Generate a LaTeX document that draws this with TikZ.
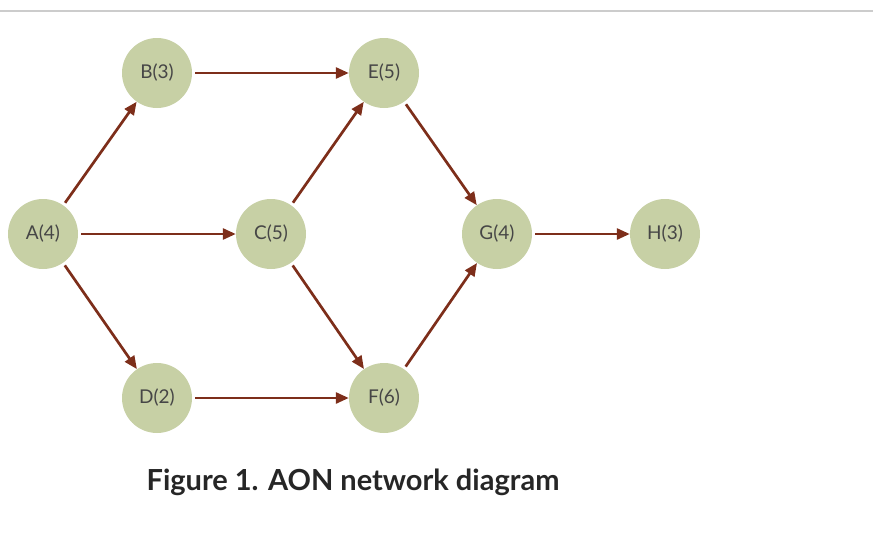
\documentclass[tikz,border=0pt]{standalone}
\usepackage{fontspec}
\setmainfont{Lato}
\usetikzlibrary{arrows.meta}
\definecolor{nodefill}{RGB}{199,208,165}
\definecolor{arr}{RGB}{125,46,26}
\definecolor{txt}{RGB}{70,70,70}
\begin{document}
\begin{tikzpicture}[x=1pt,y=-1pt,
  act/.style={circle,fill=nodefill,minimum size=70pt,inner sep=0pt,text=txt,font=\fontsize{19}{22}\selectfont},
  link/.style={draw=arr,line width=2.7pt,-{Triangle[length=13pt,width=11pt]},shorten <=3pt}]
\useasboundingbox (0,0) rectangle (873,541);
\draw[gray!40,line width=1.2pt] (0,11) -- (873,11);
\node[act] (A) at (43,234) {A(4)};
\node[act] (B) at (157,73) {B(3)};
\node[act] (C) at (271,234) {C(5)};
\node[act] (D) at (157,398) {D(2)};
\node[act] (E) at (384,73) {E(5)};
\node[act] (F) at (384,398) {F(6)};
\node[act] (G) at (497,234) {G(4)};
\node[act] (H) at (665,234) {H(3)};
\draw[link] (A) -- (B);
\draw[link] (A) -- (C);
\draw[link] (A) -- (D);
\draw[link] (B) -- (E);
\draw[link] (C) -- (E);
\draw[link] (C) -- (F);
\draw[link] (D) -- (F);
\draw[link] (E) -- (G);
\draw[link] (F) -- (G);
\draw[link] (G) -- (H);
\node[font=\bfseries\fontsize{29}{34}\selectfont,text=black!85] (cap) at (353,482) {Figure 1. AON network diagram};
\end{tikzpicture}
\end{document}
